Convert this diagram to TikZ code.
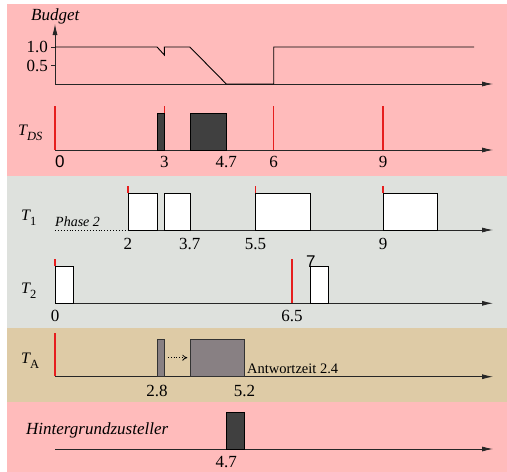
\documentclass[tikz,border=0pt]{standalone}
\usepackage{fontspec}
\setmainfont{Liberation Serif}
\setsansfont{Liberation Sans}
\usetikzlibrary{arrows.meta}
\definecolor{bgpink}{RGB}{255,187,187}
\definecolor{bggray}{RGB}{222,225,221}
\definecolor{bgtan}{RGB}{222,203,166}
\definecolor{boxdark}{RGB}{64,64,64}
\definecolor{boxgray}{RGB}{136,128,131}
\definecolor{relred}{RGB}{230,30,30}
\newcommand{\Tlab}[2]{{\fontsize{16}{16}\selectfont\itshape T}\raisebox{-5pt}{\fontsize{12.5}{12}\selectfont #1#2}}
\newcommand{\relmark}[3]{\fill[relred] ([xshift=-0.75pt]#1,#2) rectangle ([xshift=0.75pt]#1,#3);}
\begin{document}
\begin{tikzpicture}[x=1pt,y=-1pt,
  axisline/.style={line width=0.8pt, draw=black!85, -{Latex[length=11pt,width=5pt]}},
  plainaxis/.style={line width=0.8pt, draw=black!85},
  jobbox/.style={draw=black, line width=0.7pt, fill=white},
  darkbox/.style={draw=black, line width=0.7pt, fill=boxdark},
  graybox/.style={draw=black!80, line width=0.7pt, fill=boxgray},
  num/.style={font=\fontsize{17}{19}\selectfont, inner sep=0pt},
  itlab/.style={font=\fontsize{17}{19}\selectfont\itshape, inner sep=0pt},
  tlab/.style={inner sep=0pt, anchor=base west}]
\useasboundingbox (0,0) rectangle (507,472);
% backgrounds
\fill[bgpink] (7,4) rectangle (507,176);
\fill[bggray] (7,176) rectangle (507,328);
\fill[bgtan] (7,328) rectangle (507,402);
\fill[bgpink] (7,402) rectangle (507,472);

% ---------- Budget ----------
\node[itlab, anchor=west] (budget) at (31,16) {Budget};
\draw[axisline] (55,84) -- (55,24);
\draw[axisline] (55,84) -- (493,84);
\draw[plainaxis] (51,47) -- (55,47);
\draw[plainaxis] (51,65.5) -- (55,65.5);
\node[num, anchor=east] (b10) at (48,47) {1.0};
\node[num, anchor=east] (b05) at (48,65.5) {0.5};

% ---------- T_DS ----------
\node[tlab] (tds) at (18,135) {\Tlab{\itshape}{DS}};
\draw[axisline] (55,150) -- (493,150);

% ---------- T1 ----------
\node[tlab] (t1) at (21,220) {\Tlab{}{1}};
\draw[dotted, line width=0.9pt] (55,230) -- (128,230);
\node[font=\fontsize{14}{16}\selectfont\itshape, inner sep=0pt, anchor=base west] (ph) at (55,226) {Phase 2};
\draw[axisline] (128,230) -- (493,230);

% ---------- T2 ----------
\node[tlab] (t2) at (21,293) {\Tlab{}{2}};
\draw[axisline] (55,303.3) -- (493,303.3);

% ---------- TA ----------
\node[tlab] (ta) at (21,363) {\Tlab{\upshape}{A}};
\draw[axisline] (55,376.7) -- (493,376.7);
\node[font=\fontsize{14.5}{16}\selectfont, inner sep=0pt, anchor=base west] (aw) at (247,373) {Antwortzeit 2.4};

% ---------- Hintergrund ----------
\node[itlab, anchor=west] (hg) at (26,430) {Hintergrundzusteller};
\draw[axisline] (55,449) -- (493,449);

\begin{scope}[xshift=55pt, x=36.45pt]
  % budget curve
  \draw[line width=0.9pt, line join=miter] (0,47) -- (2.8,47) -- (3,55) -- (3,47) -- (3.7,47) -- (4.7,84) -- (6,84) -- (6,47) -- (11.5,47);
  % T_DS
  \relmark{0}{106}{149.5}
  \relmark{3}{106}{113}
  \relmark{6}{106}{149.5}
  \relmark{9}{106}{149.5}
  \draw[darkbox] (2.8,113) rectangle (3,150);
  \draw[darkbox] (3.7,113) rectangle (4.7,150);
  \node[num, font=\fontsize{17}{19}\selectfont\sffamily, anchor=west] (d0) at (0,162) {0};
  \node[num] (d3) at (3,162) {3};
  \node[num] (d47) at (4.7,162) {4.7};
  \node[num] (d6) at (6,162) {6};
  \node[num] (d9) at (9,162) {9};
  % T1
  \draw[jobbox] (2,193.3) rectangle (2.8,230);
  \draw[jobbox] (3,193.3) rectangle (3.7,230);
  \draw[jobbox] (5.5,193.3) rectangle (7,230);
  \draw[jobbox] (9,193.3) rectangle (10.5,230);
  \relmark{2}{186}{193}
  \relmark{5.5}{186}{193}
  \relmark{9}{186}{193}
  \node[num] (e2) at (2,244) {2};
  \node[num] (e37) at (3.7,244) {3.7};
  \node[num] (e55) at (5.5,244) {5.5};
  \node[num] (e9) at (9,244) {9};
  % T2
  \draw[jobbox] (0,266.7) rectangle (0.5,303.3);
  \relmark{0}{259}{266.4}
  \relmark{6.5}{259}{302.8}
  \draw[jobbox] (7,266.7) rectangle (7.5,303.3);
  \node[inner sep=0pt, font=\fontsize{17}{19}\selectfont\sffamily, anchor=base] (f7) at (7.02,267) {7};
  \node[num] (f0) at (0,316) {0};
  \node[num] (f65) at (6.5,316) {6.5};
  % TA
  \relmark{0}{333}{376.2}
  \draw[graybox] (2.8,339.3) rectangle (3,376.7);
  \draw[graybox] (3.7,339.3) rectangle (5.2,376.7);
  \coordinate (da) at (3.1,357.7);
  \coordinate (db) at (3.63,357.7);
  \draw[dotted, line width=0.8pt, -{To[length=5pt,width=6pt]}] (da) -- (db);
  \node[num] (g28) at (2.8,391) {2.8};
  \node[num] (g52) at (5.2,391) {5.2};
  % Hintergrund
  \draw[darkbox] (4.7,412.7) rectangle (5.2,449);
  \node[num] (h47) at (4.7,462.5) {4.7};
\end{scope}
\end{tikzpicture}
\end{document}
